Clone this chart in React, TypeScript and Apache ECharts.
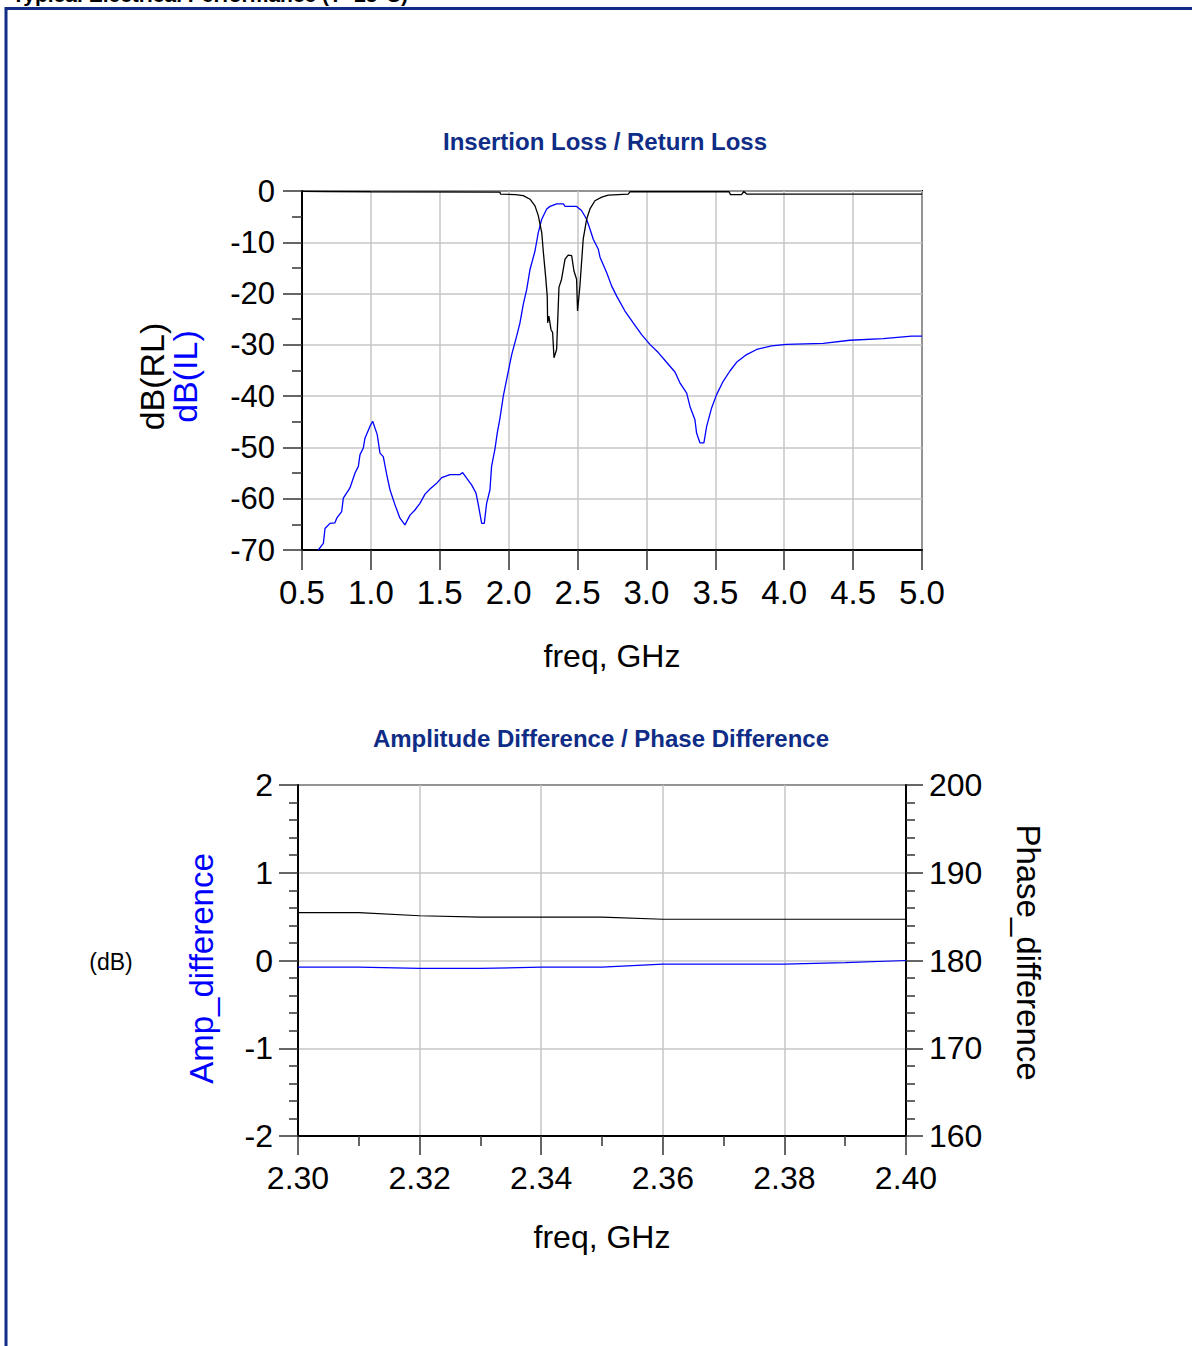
import React, { useEffect, useRef } from "react";
import * as echarts from "echarts";

// ---------- Top chart: Insertion Loss / Return Loss ----------
const ilFreq = [
  0.618, 0.655, 0.667, 0.703, 0.739, 0.752, 0.788, 0.8, 0.848, 0.885, 0.909, 0.921, 0.945, 0.957, 0.993, 1.013,
  1.046, 1.066, 1.09, 1.115, 1.139, 1.175, 1.211, 1.247, 1.284, 1.32, 1.356, 1.393, 1.429, 1.477, 1.514, 1.574,
  1.647, 1.666, 1.695, 1.731, 1.763, 1.78, 1.804, 1.823, 1.84, 1.864, 1.876, 1.9, 1.917, 1.937, 1.961, 1.985,
  2.022, 2.058, 2.082, 2.106, 2.131, 2.155, 2.191, 2.215, 2.24, 2.276, 2.3, 2.348, 2.397, 2.41, 2.493, 2.529,
  2.566, 2.59, 2.614, 2.65, 2.663, 2.711, 2.747, 2.784, 2.844, 2.904, 2.965, 3.025, 3.086, 3.146, 3.207, 3.243,
  3.292, 3.316, 3.352, 3.364, 3.388, 3.417, 3.437, 3.473, 3.509, 3.557, 3.606, 3.654, 3.727, 3.8, 3.908, 4.017,
  4.283, 4.477, 4.718, 4.925, 5.0,
];
const ilDb = [
  -70, -68.7, -65.8, -64.8, -64.7, -63.8, -62.5, -59.9, -57.9, -55.0, -53.7, -51.4, -50.1, -48.2, -45.9, -44.9,
  -47.5, -51.1, -51.8, -55.3, -58.3, -61.2, -63.8, -65.1, -63.2, -62.2, -60.9, -59.1, -58.1, -57.0, -55.9, -55.3,
  -55.3, -54.9, -56.0, -57.3, -58.9, -61.2, -64.8, -64.8, -60.9, -58.3, -53.7, -50.4, -47.2, -44.3, -40.0, -36.8,
  -31.9, -28.3, -25.7, -22.1, -19.2, -15.3, -11.7, -8.1, -5.5, -3.5, -3.0, -2.5, -2.5, -3.0, -3.0, -3.8,
  -5.5, -7.4, -9.4, -11.3, -12.9, -15.9, -18.5, -20.5, -23.4, -25.7, -28.0, -29.9, -31.5, -33.4, -35.3, -37.4,
  -39.4, -42.0, -44.6, -47.2, -49.1, -49.1, -45.9, -42.3, -39.7, -37.1, -35.1, -33.4, -31.9, -30.9, -30.2, -29.9,
  -29.7, -29.1, -28.8, -28.3, -28.3,
];
const rlFreq = [
  0.5, 0.67, 1.0, 1.937, 1.94, 2.05, 2.106, 2.155, 2.191, 2.215, 2.24, 2.252, 2.268, 2.28, 2.283, 2.292, 2.307,
  2.319, 2.329, 2.348, 2.365, 2.384, 2.409, 2.432, 2.457, 2.474, 2.493, 2.5, 2.517, 2.541, 2.566, 2.59, 2.626,
  2.675, 2.723, 2.868, 2.88, 3.6, 3.61, 3.69, 3.707, 3.727, 5.0,
];
const rlDb = [
  -0.05, -0.1, -0.15, -0.2, -0.6, -0.7, -0.9, -1.6, -2.9, -4.8, -8.1, -12.0, -16.6, -20.5, -25.7, -24.4, -27.0,
  -27.6, -32.5, -30.9, -18.8, -17.2, -13.3, -12.5, -12.6, -15.6, -17.2, -23.4, -18.5, -9.4, -5.5, -3.5, -1.9,
  -1.2, -0.8, -0.6, -0.15, -0.15, -0.7, -0.7, -0.1, -0.6, -0.6,
];

// ---------- Bottom chart: Amplitude Difference / Phase Difference ----------
const diffFreq = [2.3, 2.31, 2.32, 2.33, 2.34, 2.35, 2.36, 2.37, 2.38, 2.39, 2.4];
const ampDiff = [-0.076, -0.076, -0.09, -0.09, -0.076, -0.076, -0.042, -0.042, -0.042, -0.025, 0.0];
const phaseDiff = [185.45, 185.45, 185.1, 184.95, 184.95, 184.95, 184.7, 184.7, 184.7, 184.7, 184.7];

const FONT = "'Liberation Sans', Arial, sans-serif";
const NAVY = "#0f2d86";
const GRIDC = "#c6c6c6";
const TICKC = "#333";

function axisBase(extra: any) {
  return {
    type: "value",
    axisLine: { show: true, onZero: false, lineStyle: { color: "#000", width: 2 } },
    axisTick: { show: true, length: 19, lineStyle: { color: TICKC, width: 1.5 } },
    splitLine: { show: true, lineStyle: { color: GRIDC, width: 1.5 } },
    ...extra,
  };
}

export default function App() {
  const ref = useRef<HTMLDivElement>(null);
  useEffect(() => {
    const chart = echarts.init(ref.current!, null, { renderer: "svg" });
    const option: any = {
      animation: false,
      backgroundColor: "#fff",
      textStyle: { fontFamily: FONT },
      grid: [
        { left: 302, top: 191, width: 620, height: 359, show: true, borderColor: "#000", borderWidth: 2, outerBoundsMode: "none" },
        { left: 298, top: 785, width: 608, height: 351, show: true, borderColor: "#000", borderWidth: 2, outerBoundsMode: "none" },
      ],
      xAxis: [
        axisBase({
          gridIndex: 0,
          min: 0.5,
          max: 5.0,
          interval: 0.5,
          axisTick: { show: true, length: 20, lineStyle: { color: TICKC, width: 1.5 } },
          axisLabel: { fontSize: 33, color: "#000", margin: 26, fontFamily: FONT, formatter: (v: number) => v.toFixed(1) },
          name: "freq, GHz",
          nameLocation: "middle",
          nameGap: 90,
          nameTextStyle: { fontSize: 32, color: "#000", fontFamily: FONT },
        }),
        axisBase({
          gridIndex: 1,
          min: 2.3,
          max: 2.4,
          interval: 0.02,
          minorTick: { show: true, splitNumber: 2, length: 10, lineStyle: { color: TICKC, width: 1.5 } },
          axisLabel: { fontSize: 32, color: "#000", margin: 26, fontFamily: FONT, formatter: (v: number) => v.toFixed(2) },
          name: "freq, GHz",
          nameLocation: "middle",
          nameGap: 85,
          nameTextStyle: { fontSize: 32, color: "#000", fontFamily: FONT },
        }),
      ],
      yAxis: [
        axisBase({
          gridIndex: 0,
          min: -70,
          max: 0,
          interval: 10,
          minorTick: { show: true, splitNumber: 2, length: 10, lineStyle: { color: TICKC, width: 1.5 } },
          axisLabel: { fontSize: 31, color: "#000", margin: 27, fontFamily: FONT },
          name: "{a|dB(RL)}\n{b|dB(IL)}",
          nameLocation: "middle",
          nameRotate: 90,
          nameGap: 101,
          nameTextStyle: {
            padding: [0, 12, 0, 0],
            rich: {
              a: { fontSize: 34, color: "#000", lineHeight: 33, fontFamily: FONT },
              b: { fontSize: 34, color: "#0000ff", lineHeight: 33, fontFamily: FONT },
            },
          },
        }),
        axisBase({
          gridIndex: 1,
          min: -2,
          max: 2,
          interval: 1,
          minorTick: { show: true, splitNumber: 5, length: 9, lineStyle: { color: TICKC, width: 1.5 } },
          axisLabel: { fontSize: 32, color: "#000", margin: 25, fontFamily: FONT },
          name: "Amp_difference",
          nameLocation: "middle",
          nameRotate: 90,
          nameGap: 80,
          nameTextStyle: { fontSize: 33, color: "#0000ff", fontFamily: FONT, padding: [0, 16, 0, 0] },
        }),
        axisBase({
          gridIndex: 1,
          position: "right",
          min: 160,
          max: 200,
          interval: 10,
          splitLine: { show: false },
          minorTick: { show: true, splitNumber: 5, length: 9, lineStyle: { color: TICKC, width: 1.5 } },
          axisTick: { show: true, length: 17, lineStyle: { color: TICKC, width: 1.5 } },
          axisLabel: { fontSize: 32, color: "#000", margin: 23, fontFamily: FONT },
          name: "Phase_difference",
          nameLocation: "middle",
          nameRotate: -90,
          nameGap: 106,
          nameTextStyle: { fontSize: 33, color: "#000", fontFamily: FONT, padding: [0, 16, 0, 0] },
        }),
      ],
      series: [
        {
          name: "dB(IL)",
          type: "line",
          xAxisIndex: 0,
          yAxisIndex: 0,
          symbol: "none",
          data: ilFreq.map((f, i) => [f, ilDb[i]]),
          lineStyle: { color: "#0000ff", width: 1.3 },
          itemStyle: { color: "#0000ff" },
        },
        {
          name: "dB(RL)",
          type: "line",
          xAxisIndex: 0,
          yAxisIndex: 0,
          symbol: "none",
          data: rlFreq.map((f, i) => [f, rlDb[i]]),
          lineStyle: { color: "#000", width: 1.3 },
          itemStyle: { color: "#000" },
        },
        {
          name: "Amp_difference",
          type: "line",
          xAxisIndex: 1,
          yAxisIndex: 1,
          symbol: "none",
          data: diffFreq.map((f, i) => [f, ampDiff[i]]),
          lineStyle: { color: "#0000ff", width: 1.2 },
          itemStyle: { color: "#0000ff" },
        },
        {
          name: "Phase_difference",
          type: "line",
          xAxisIndex: 1,
          yAxisIndex: 2,
          symbol: "none",
          data: diffFreq.map((f, i) => [f, phaseDiff[i]]),
          lineStyle: { color: "#000", width: 1.2 },
          itemStyle: { color: "#000" },
        },
      ],
      graphic: [
        {
          type: "rect",
          shape: { x: 6, y: 8.5, width: 1400, height: 1500 },
          style: { fill: "none", stroke: NAVY, lineWidth: 3 },
          silent: true,
        },
        {
          type: "text",
          x: 12,
          y: 5,
          style: {
            text: "Typical Electrical Performance (T=25°C)",
            fontSize: 21,
            fontWeight: "bold",
            fontFamily: FONT,
            fill: "#000",
            verticalAlign: "bottom",
          },
          z: -1,
        },
        {
          type: "text",
          x: 605,
          y: 141,
          style: {
            text: "Insertion Loss / Return Loss",
            fontSize: 24,
            fontWeight: "bold",
            fontFamily: FONT,
            fill: NAVY,
            align: "center",
            verticalAlign: "middle",
          },
        },
        {
          type: "text",
          x: 601,
          y: 738,
          style: {
            text: "Amplitude Difference / Phase Difference",
            fontSize: 24,
            fontWeight: "bold",
            fontFamily: FONT,
            fill: NAVY,
            align: "center",
            verticalAlign: "middle",
          },
        },
        {
          type: "text",
          x: 111,
          y: 962,
          style: {
            text: "(dB)",
            fontSize: 23,
            fontFamily: FONT,
            fill: "#000",
            align: "center",
            verticalAlign: "middle",
          },
        },
      ],
    };
    chart.setOption(option);
    return () => chart.dispose();
  }, []);
  return (
    <div
      ref={ref}
      style={{ position: "absolute", left: 0, top: 0, width: 1192, height: 1346, background: "#fff" }}
    />
  );
}
